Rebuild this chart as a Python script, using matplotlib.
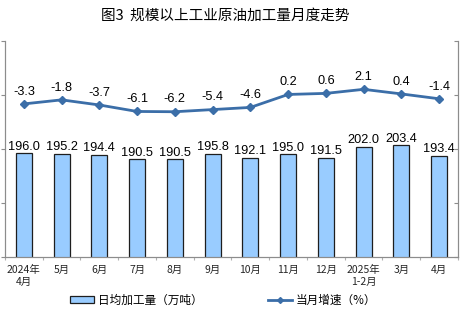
import matplotlib.pyplot as plt
from matplotlib.patches import Rectangle
from matplotlib.lines import Line2D
import numpy as np

months = ["2024年\n4月", "5月", "6月", "7月", "8月", "9月", "10月",
          "11月", "12月", "2025年\n1-2月", "3月", "4月"]
daily_output = [196.0, 195.2, 194.4, 190.5, 190.5, 195.8, 192.1,
                195.0, 191.5, 202.0, 203.4, 193.4]
growth = [-3.3, -1.8, -3.7, -6.1, -6.2, -5.4, -4.6,
          0.2, 0.6, 2.1, 0.4, -1.4]

cjk = ["Noto Sans CJK SC", "DejaVu Sans"]
num_font = "Liberation Sans"
bar_color = "#99CCFF"
line_color = "#3B6EA8"
axis_color = "#8C8C8C"

fig = plt.figure(figsize=(4.63, 3.26), dpi=100)
ax = fig.add_axes([5 / 463, 69 / 326, 453 / 463, 216 / 326])
ax2 = ax.twinx()

x = np.arange(len(months))
bars = ax.bar(x, daily_output, width=0.43, color=bar_color,
              edgecolor="#1E1E1E", linewidth=0.9, zorder=2)
ax.set_ylim(100, 300)
ax.set_yticks([100, 150, 200, 250, 300])
ax.set_xlim(-0.5, len(months) - 0.5)

for xi, v in zip(x, daily_output):
    ax.annotate(f"{v:.1f}", (xi, v), xytext=(0, 0.5), textcoords="offset points",
                ha="center", va="bottom", fontsize=9.2, family=num_font)

ax2.plot(x, growth, color=line_color, lw=2, marker="D", ms=4, zorder=3)
ax2.set_ylim(-60, 20)
ax2.set_yticks([-60, -40, -20, 0, 20])
for xi, v in zip(x, growth):
    ax2.annotate(f"{v:.1f}", (xi, v), xytext=(0, 4.5), textcoords="offset points",
                 ha="center", va="bottom", fontsize=9.2, family=num_font)

# axes styling
for a in (ax, ax2):
    a.spines["top"].set_visible(False)
    for s in ("left", "right", "bottom"):
        a.spines[s].set_color(axis_color)
        a.spines[s].set_linewidth(0.8)
ax.tick_params(axis="y", which="both", left=True, right=False, labelleft=False,
               length=3, width=0.8, color=axis_color, direction="out")
ax2.tick_params(axis="y", right=True, labelright=False,
                length=3, width=0.8, color=axis_color, direction="in")

ax.set_xticks(x)
ax.set_xticklabels(months, family=cjk, fontsize=7.5, linespacing=1.15,
                   color="#262626")
ax.set_xticks(np.arange(len(months) + 1) - 0.5, minor=True)
ax.tick_params(axis="x", which="major", length=0, pad=6)
ax.tick_params(axis="x", which="minor", length=2.5, width=0.8, color="#B0B0B0",
               direction="out")

fig.text(0.487, 0.953, "图3  规模以上工业原油加工量月度走势", ha="center", va="center",
         family=cjk, fontsize=10.5)

handles = [
    Rectangle((0, 0), 1, 1, facecolor=bar_color, edgecolor="#1E1E1E", linewidth=0.9),
    Line2D([], [], color=line_color, lw=2, marker="D", ms=3),
]
labels = ["日均加工量（万吨）", "当月增速（%）"]
fig.legend(handles, labels, loc="center", bbox_to_anchor=(0.482, 0.078), ncol=2,
           frameon=False, prop={"family": cjk, "size": 8.4},
           handlelength=2.1, handleheight=0.55, handletextpad=0.3, columnspacing=5.6)

fig.savefig("out.png", dpi=100, facecolor="white")
